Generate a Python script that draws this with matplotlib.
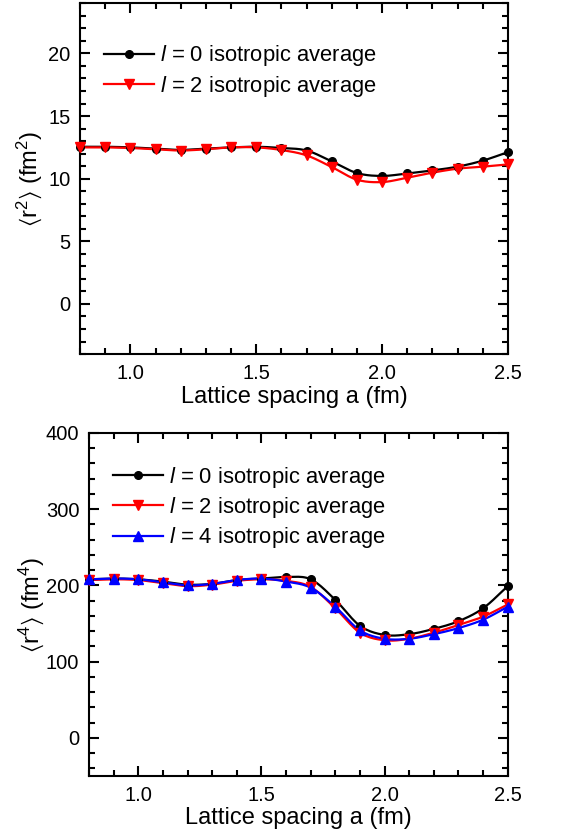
import matplotlib
matplotlib.use('Agg')
import matplotlib.pyplot as plt
from matplotlib.ticker import MultipleLocator
import numpy as np

# ===== DATA =====
A = [0.8, 0.9, 1.0, 1.1, 1.2, 1.3, 1.4, 1.5, 1.6, 1.7, 1.8, 1.9, 2.0, 2.1, 2.2, 2.3, 2.4, 2.5]

R2_L0 = [12.55, 12.55, 12.5, 12.4, 12.3, 12.4, 12.5, 12.55, 12.45, 12.25, 11.38, 10.45, 10.22, 10.42,
         10.66, 10.96, 11.44, 12.12]
R2_L2 = [12.5, 12.5, 12.45, 12.35, 12.25, 12.35, 12.5, 12.5, 12.29, 11.86, 10.93, 9.92, 9.73, 10.08,
         10.48, 10.8, 10.96, 11.14]

R4_L0 = [208, 209, 208, 205, 201, 202, 207, 209, 211, 208, 181, 147, 135, 136, 143, 153, 170, 199]
R4_L2 = [207, 208, 207, 203, 199, 201, 206, 208, 206, 198, 170, 138, 128, 130, 138, 148, 159, 175]
R4_L4 = [208, 209, 208, 204, 200, 202, 207, 209, 205, 197, 172, 141, 130, 130, 136, 144, 155, 172]

LABELS = [r'$\mathit{l}$ = 0 isotropic average',
          r'$\mathit{l}$ = 2 isotropic average',
          r'$\mathit{l}$ = 4 isotropic average']

plt.rcParams['font.family'] = ['Liberation Sans', 'DejaVu Sans']
plt.rcParams['mathtext.fontset'] = 'custom'
plt.rcParams['mathtext.rm'] = 'Liberation Sans'
plt.rcParams['mathtext.it'] = 'Liberation Sans:italic'
plt.rcParams['mathtext.fallback'] = 'stixsans'
plt.rcParams['axes.linewidth'] = 1.5


def smooth(x, y, n=12):
    # cubic Hermite curve through the data points, for the drawn line only
    x = np.asarray(x, float); y = np.asarray(y, float)
    m = np.gradient(y, x)
    xs, ys = [], []
    for i in range(len(x) - 1):
        h = x[i + 1] - x[i]
        t = np.linspace(0, 1, n, endpoint=False)
        h00 = 2*t**3 - 3*t**2 + 1; h10 = t**3 - 2*t**2 + t
        h01 = -2*t**3 + 3*t**2; h11 = t**3 - t**2
        xs.append(x[i] + t*h)
        ys.append(h00*y[i] + h10*h*m[i] + h01*y[i+1] + h11*h*m[i+1])
    xs.append([x[-1]]); ys.append([y[-1]])
    return np.concatenate(xs), np.concatenate(ys)


def series(ax, y, color, marker, ms, label):
    xs, ys = smooth(A, y)
    ax.plot(xs, ys, '-', color=color, lw=1.6)
    ax.plot(A, y, marker, color=color, ms=ms, lw=0, clip_on=False, zorder=4)
    ax.plot([], [], '-', marker=marker, color=color, ms=ms, lw=1.6, label=label)


def style(ax, ylim, major, minor):
    ax.set_xlim(0.8, 2.5)
    ax.set_ylim(*ylim)
    ax.xaxis.set_major_locator(MultipleLocator(0.5))
    ax.xaxis.set_minor_locator(MultipleLocator(0.1))
    ax.yaxis.set_major_locator(MultipleLocator(major))
    ax.yaxis.set_minor_locator(MultipleLocator(minor))
    ax.tick_params(which='both', direction='in', top=True, right=True, width=1.5, labelsize=14.5)
    ax.tick_params(which='major', length=7, pad=7)
    ax.tick_params(which='minor', length=4)
    ax.set_xlabel("Lattice spacing a (fm)", fontsize=17, labelpad=2)
    ax.xaxis.set_major_formatter(plt.FuncFormatter(lambda v, _: f'{v:.1f}'))


fig = plt.figure(figsize=(5.76, 8.35), dpi=100)

# top panel: <r^2>
ax1 = fig.add_axes([0.1389, 0.576, 0.743, 0.420])
series(ax1, R2_L0, 'black', 'o', 5.5, LABELS[0])
series(ax1, R2_L2, 'red', 'v', 6.5, LABELS[1])
style(ax1, (-4, 24), 5, 1)
ax1.set_ylabel(r'$\langle\mathrm{r}^2\rangle$ (fm$^2$)', fontsize=17, labelpad=3)
ax1.legend(loc='upper left', bbox_to_anchor=(0.057, 0.886), frameon=False, fontsize=15.8,
           handlelength=2.25, handletextpad=0.3, labelspacing=0.25, borderaxespad=0,
           borderpad=0)

# bottom panel: <r^4>
ax2 = fig.add_axes([0.1545, 0.0707, 0.727, 0.4108])
series(ax2, R4_L0, 'black', 'o', 5.5, LABELS[0])
series(ax2, R4_L2, 'red', 'v', 6.5, LABELS[1])
series(ax2, R4_L4, 'blue', '^', 6.5, LABELS[2])
style(ax2, (-50, 400), 100, 20)
ax2.set_ylabel(r'$\langle\mathrm{r}^4\rangle$ (fm$^4$)', fontsize=17, labelpad=0)
ax2.legend(loc='upper left', bbox_to_anchor=(0.058, 0.908), frameon=False, fontsize=15.8,
           handlelength=2.25, handletextpad=0.3, labelspacing=0.25, borderaxespad=0,
           borderpad=0)

plt.savefig("out.png", dpi=100)
